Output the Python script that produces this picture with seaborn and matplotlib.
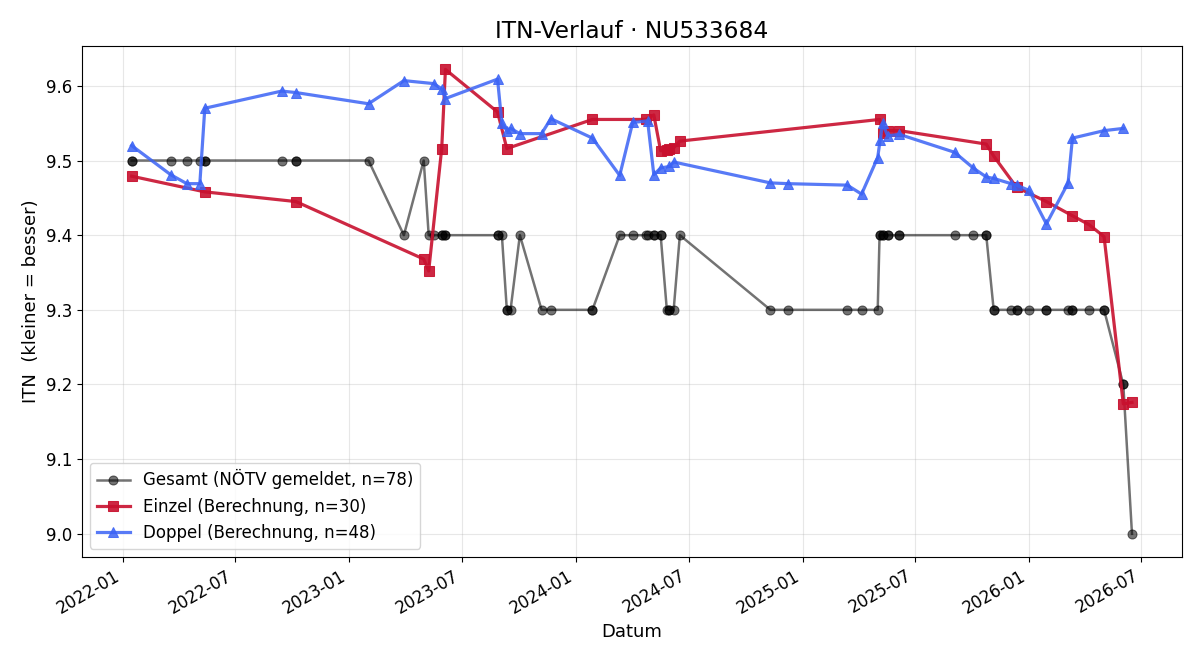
import pandas as pd
import matplotlib
matplotlib.use("Agg")
import matplotlib.pyplot as plt
import matplotlib.dates as mdates
import seaborn as sns

# ========== DATEN ==========
gesamt_dates = [
    "2022-01-15", "2022-01-15", "2022-03-19", "2022-04-14", "2022-05-05", "2022-05-13", "2022-05-13",
    "2022-09-14", "2022-10-07", "2022-10-07", "2023-02-01", "2023-03-30", "2023-05-01", "2023-05-09",
    "2023-05-17", "2023-05-30", "2023-05-30", "2023-06-05", "2023-06-05", "2023-08-28", "2023-08-28",
    "2023-09-04", "2023-09-12", "2023-09-12", "2023-09-18", "2023-10-03", "2023-11-07", "2023-11-22",
    "2024-01-28", "2024-01-28", "2024-03-12", "2024-04-02", "2024-04-23", "2024-04-26", "2024-05-06",
    "2024-05-06", "2024-05-17", "2024-05-17", "2024-05-27", "2024-05-31", "2024-05-31", "2024-06-07",
    "2024-06-17", "2024-11-10", "2024-12-08", "2025-03-14", "2025-04-06", "2025-05-02", "2025-05-05",
    "2025-05-06", "2025-05-10", "2025-05-11", "2025-05-18", "2025-05-18", "2025-06-06", "2025-06-06",
    "2025-09-03", "2025-10-03", "2025-10-24", "2025-10-24", "2025-11-05", "2025-11-05", "2025-12-03",
    "2025-12-12", "2025-12-12", "2026-01-01", "2026-01-29", "2026-01-29", "2026-03-05", "2026-03-12",
    "2026-03-12", "2026-04-08", "2026-05-02", "2026-05-02", "2026-06-02", "2026-06-02", "2026-06-16",
]
gesamt_itn = [
    9.5, 9.5, 9.5, 9.5, 9.5, 9.5, 9.5,
    9.5, 9.5, 9.5, 9.5, 9.4, 9.5, 9.4,
    9.4, 9.4, 9.4, 9.4, 9.4, 9.4, 9.4,
    9.4, 9.3, 9.3, 9.3, 9.4, 9.3, 9.3,
    9.3, 9.3, 9.4, 9.4, 9.4, 9.4, 9.4,
    9.4, 9.4, 9.4, 9.3, 9.3, 9.3, 9.3,
    9.4, 9.3, 9.3, 9.3, 9.3, 9.3, 9.4,
    9.4, 9.4, 9.4, 9.4, 9.4, 9.4, 9.4,
    9.4, 9.4, 9.4, 9.4, 9.3, 9.3, 9.3,
    9.3, 9.3, 9.3, 9.3, 9.3, 9.3, 9.3,
    9.3, 9.3, 9.3, 9.3, 9.2, 9.2, 9.0,
]

einzel_dates = [
    "2022-01-15", "2022-05-13", "2022-10-07", "2023-05-01", "2023-05-09", "2023-05-30",
    "2023-06-05", "2023-08-28", "2023-09-12", "2024-01-28", "2024-04-23", "2024-05-06",
    "2024-05-17", "2024-05-27", "2024-05-31", "2024-06-07", "2024-06-17", "2025-05-05",
    "2025-05-11", "2025-05-18", "2025-06-06", "2025-10-24", "2025-11-05", "2025-12-12",
    "2026-01-29", "2026-03-12", "2026-04-08", "2026-05-02", "2026-06-02", "2026-06-16",
]
einzel_itn = [
    9.479, 9.458, 9.445, 9.368, 9.352, 9.516,
    9.622, 9.565, 9.516, 9.555, 9.555, 9.561,
    9.513, 9.514, 9.516, 9.517, 9.526, 9.555,
    9.537, 9.540, 9.540, 9.522, 9.506, 9.464,
    9.445, 9.426, 9.414, 9.398, 9.174, 9.176,
]

doppel_dates = [
    "2022-01-15", "2022-03-19", "2022-04-14", "2022-05-05", "2022-05-13", "2022-09-14",
    "2022-10-07", "2023-02-01", "2023-03-30", "2023-05-17", "2023-05-30", "2023-06-05",
    "2023-08-28", "2023-09-04", "2023-09-12", "2023-09-18", "2023-10-03", "2023-11-07",
    "2023-11-22", "2024-01-28", "2024-03-12", "2024-04-02", "2024-04-26", "2024-05-06",
    "2024-05-17", "2024-05-31", "2024-06-07", "2024-11-10", "2024-12-08", "2025-03-14",
    "2025-04-06", "2025-05-02", "2025-05-06", "2025-05-10", "2025-05-18", "2025-06-06",
    "2025-09-03", "2025-10-03", "2025-10-24", "2025-11-05", "2025-12-03", "2025-12-12",
    "2026-01-01", "2026-01-29", "2026-03-05", "2026-03-12", "2026-05-02", "2026-06-02",
]
doppel_itn = [
    9.520, 9.481, 9.469, 9.469, 9.570, 9.593,
    9.591, 9.576, 9.607, 9.603, 9.596, 9.583,
    9.609, 9.550, 9.540, 9.543, 9.536, 9.536,
    9.556, 9.530, 9.480, 9.551, 9.553, 9.481,
    9.490, 9.492, 9.498, 9.470, 9.469, 9.467,
    9.455, 9.504, 9.528, 9.550, 9.533, 9.535,
    9.511, 9.490, 9.478, 9.476, 9.469, 9.467,
    9.460, 9.415, 9.470, 9.530, 9.540, 9.543,
]

# ========== PLOT ==========
fig, ax = plt.subplots(figsize=(12, 6.6), dpi=100)

sns.lineplot(x=pd.to_datetime(gesamt_dates), y=gesamt_itn, ax=ax, estimator=None, sort=False,
             color="black", alpha=0.55, marker="o", markersize=6.5, linewidth=1.8,
             markeredgecolor="black", label="Gesamt (NÖTV gemeldet, n=78)")
sns.lineplot(x=pd.to_datetime(einzel_dates), y=einzel_itn, ax=ax, estimator=None, sort=False,
             color="#C8102E", alpha=0.9, marker="s", markersize=7.5, linewidth=2.3,
             markeredgecolor="#C8102E", label="Einzel (Berechnung, n=30)")
sns.lineplot(x=pd.to_datetime(doppel_dates), y=doppel_itn, ax=ax, estimator=None, sort=False,
             color="#3B63F5", alpha=0.85, marker="^", markersize=7.5, linewidth=2.3,
             markeredgecolor="#3B63F5", label="Doppel (Berechnung, n=48)")

ax.set_title("ITN-Verlauf · NU533684", fontsize=16.8)
ax.set_xlabel("Datum", fontsize=13)
ax.set_ylabel("ITN  (kleiner = besser)", fontsize=13)
ax.grid(True, alpha=0.3)
ax.xaxis.set_major_locator(mdates.MonthLocator(bymonth=[1, 7]))
ax.xaxis.set_major_formatter(mdates.DateFormatter("%Y-%m"))
ax.tick_params(labelsize=12)
ax.legend(loc="lower left", fontsize=12)
fig.autofmt_xdate()

fig.subplots_adjust(left=0.068, right=0.985, top=0.930, bottom=0.156)
plt.savefig("out.png")
plt.close()
